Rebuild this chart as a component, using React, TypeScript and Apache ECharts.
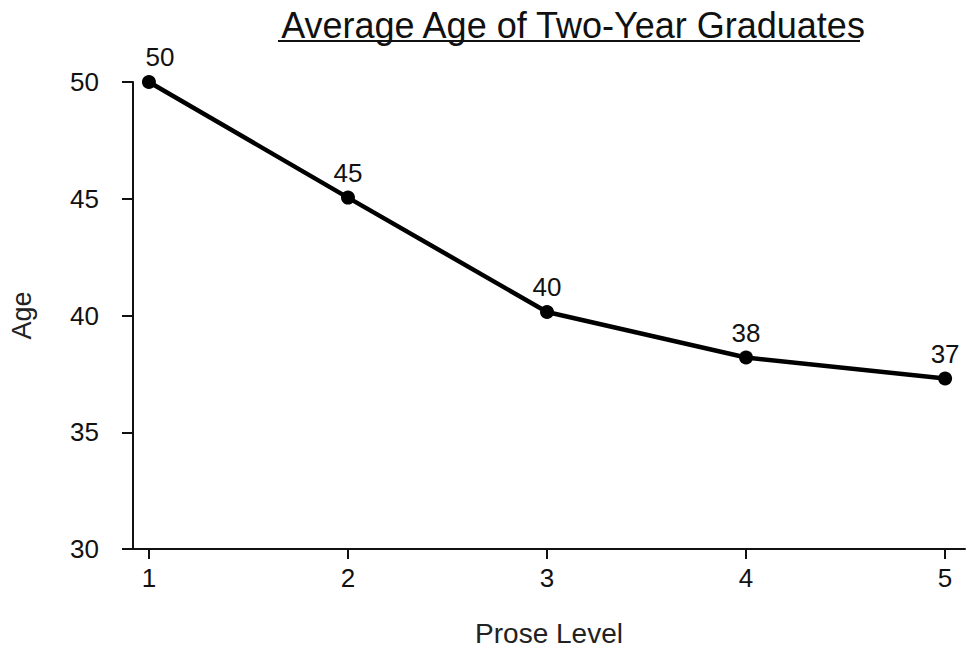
import React, { useEffect, useRef } from "react";
import * as echarts from "echarts";

const proseLevels = [1, 2, 3, 4, 5];
const ageValues = [50.0, 45.05, 40.15, 38.2, 37.3];
const pointLabels = ["50", "45", "40", "38", "37"];
const yTicks = [30, 35, 40, 45, 50];

export default function App() {
  const ref = useRef<HTMLDivElement>(null);
  useEffect(() => {
    if (!ref.current) return;
    const chart = echarts.init(ref.current, null, { renderer: "svg" });
    const font = "'Liberation Sans', Arial, Helvetica, sans-serif";
    chart.setOption({
      animation: false,
      backgroundColor: "#ffffff",
      title: {
        text: "Average Age of Two-Year Graduates",
        left: 568,
        textAlign: "center",
        top: 2,
        textStyle: { fontFamily: font, fontSize: 36, fontWeight: "normal", color: "#111" },
      },
      graphic: [
        {
          type: "line",
          shape: { x1: 278, y1: 41, x2: 860, y2: 41 },
          style: { stroke: "#111", lineWidth: 2 },
        },
      ],
      grid: { left: 129, right: 3, top: 82, bottom: 99, containLabel: false },
      xAxis: {
        type: "value",
        min: 0.92,
        max: 5.1,
        name: "Prose Level",
        nameLocation: "middle",
        nameGap: 70,
        nameTextStyle: { fontFamily: font, fontSize: 28, color: "#222" },
        axisLine: { show: true, lineStyle: { color: "#111", width: 2 } },
        axisTick: { show: true, length: 10, customValues: proseLevels, lineStyle: { color: "#111", width: 2 } },
        axisLabel: { customValues: proseLevels, margin: 16, fontFamily: font, fontSize: 26, color: "#111" },
        splitLine: { show: false },
      },
      yAxis: {
        type: "value",
        min: 30,
        max: 50,
        interval: 5,
        name: "Age",
        nameLocation: "middle",
        nameGap: 98,
        nameRotate: 90,
        nameTextStyle: { fontFamily: font, fontSize: 27, color: "#222" },
        axisLine: { show: true, lineStyle: { color: "#111", width: 2 } },
        axisTick: { show: true, length: 11, lineStyle: { color: "#111", width: 2 } },
        axisLabel: { margin: 34, fontFamily: font, fontSize: 26, color: "#111", customValues: yTicks },
        splitLine: { show: false },
      },
      series: [
        {
          type: "line",
          data: proseLevels.map((x, i) => ({
            value: [x, ageValues[i]],
            label: i === 0 ? { offset: [11, 0] } : undefined,
          })),
          symbol: "circle",
          symbolSize: 14,
          lineStyle: { color: "#000", width: 4.5 },
          itemStyle: { color: "#000" },
          label: {
            show: true,
            position: "top",
            distance: 5,
            fontFamily: font,
            fontSize: 26,
            color: "#111",
            formatter: (p: any) => pointLabels[p.dataIndex],
          },
        },
      ],
    });
    return () => chart.dispose();
  }, []);
  return <div ref={ref} style={{ width: 968, height: 652, position: "absolute", left: 0, top: 0 }} />;
}
